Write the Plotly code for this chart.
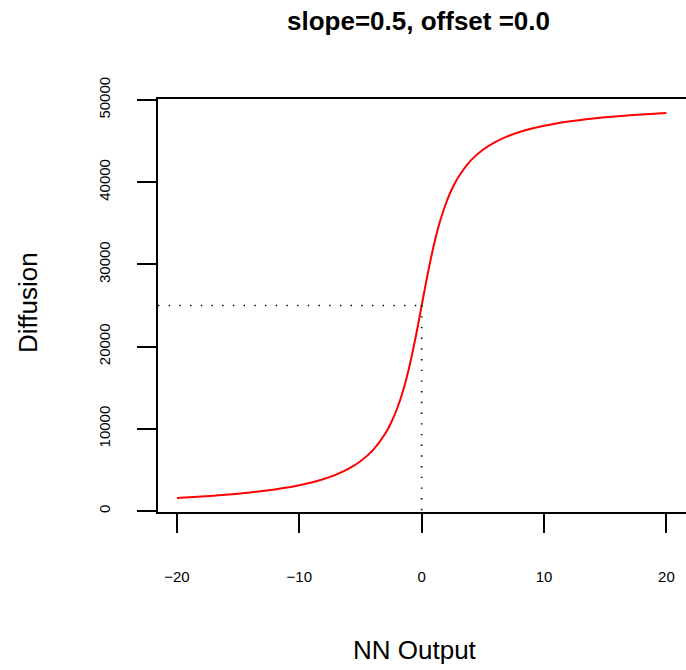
import plotly.graph_objects as go

# NN output values (x) and diffusion values (y)
nn_output = [-20, -19, -18, -17, -16, -15, -14, -13, -12, -11, -10, -9, -8, -7, -6, -5, -4, -3,
             -2.5, -2, -1.5, -1, -0.5, 0, 0.5, 1, 1.5, 2, 2.5,
             3, 4, 5, 6, 7, 8, 9, 10, 11, 12, 13, 14, 15, 16, 17, 18, 19, 20]
diffusion = [1590, 1670, 1760, 1860, 1980, 2110, 2260, 2430, 2630, 2860, 3140, 3480, 3900, 4430, 5120, 6060, 7380, 9360,
             10740, 12500, 14760, 17620, 21100, 25000, 28900, 32380, 35240, 37500, 39260,
             40640, 42620, 43940, 44880, 45570, 46100, 46520, 46860, 47140, 47370, 47570, 47740, 47890, 48020, 48140, 48240, 48330, 48410]

x_ticks = [-20, -10, 0, 10, 20]
y_ticks = [0, 10000, 20000, 30000, 40000, 50000]
mid_x = 0
mid_y = 25000
x_range = [-21.55, 21.6]
y_range = [-120, 50120]

font = "Liberation Sans, Arial, Helvetica, sans-serif"

fig = go.Figure()
fig.add_trace(go.Scatter(x=nn_output, y=diffusion, mode="lines", line=dict(color="#ff0000", width=2, shape="spline"),
                         hoverinfo="skip"))
fig.add_trace(go.Scatter(x=[x_range[0], mid_x], y=[mid_y, mid_y], mode="lines",
                         line=dict(color="black", width=1.6, dash="1.4px,9.3px"), hoverinfo="skip"))
fig.add_trace(go.Scatter(x=[mid_x, mid_x], y=[mid_y, y_range[0]], mode="lines",
                         line=dict(color="black", width=1.6, dash="1.4px,9.3px"), hoverinfo="skip"))

fig.update_layout(
    width=686, height=670,
    margin=dict(l=158, r=0, t=99, b=158),
    paper_bgcolor="white", plot_bgcolor="white",
    showlegend=False,
    font=dict(family=font, color="black"),
    xaxis=dict(range=x_range, tickvals=x_ticks, ticktext=["\u221220", "\u221210", "0", "10", "20"],
               showgrid=False, zeroline=False, showline=True, mirror=True, linecolor="black", linewidth=2,
               ticks="outside", ticklen=19, tickwidth=2, tickcolor="black",
               tickfont=dict(size=15, family=font), ticklabelstandoff=31),
    yaxis=dict(range=y_range, tickvals=y_ticks, ticktext=[str(v) for v in y_ticks],
               showgrid=False, zeroline=False, showline=True, mirror=False, linecolor="black", linewidth=2,
               ticks="outside", ticklen=19, tickwidth=2, tickcolor="black", tickangle=-90,
               tickfont=dict(size=15, family=font), ticklabelstandoff=21),
    annotations=[
        dict(text="<b>slope=0.5, offset =0.0</b>", xref="paper", yref="paper", x=(418 - 158) / 528, y=1 + (99 - 21) / 413,
             xanchor="center", yanchor="middle", showarrow=False, font=dict(size=26, family=font)),
        dict(text="NN Output", xref="paper", yref="paper", x=(415 - 158) / 528, y=-(650 - 512) / 413,
             xanchor="center", yanchor="middle", showarrow=False, font=dict(size=26, family=font)),
        dict(text="Diffusion", xref="paper", yref="paper", x=-(158 - 28) / 528, y=(512 - 303) / 413,
             xanchor="center", yanchor="middle", textangle=-90, showarrow=False, font=dict(size=26, family=font)),
    ],
)

fig.write_html("out.html", config={"displayModeBar": False},
               post_script="document.body.style.margin='0';")
